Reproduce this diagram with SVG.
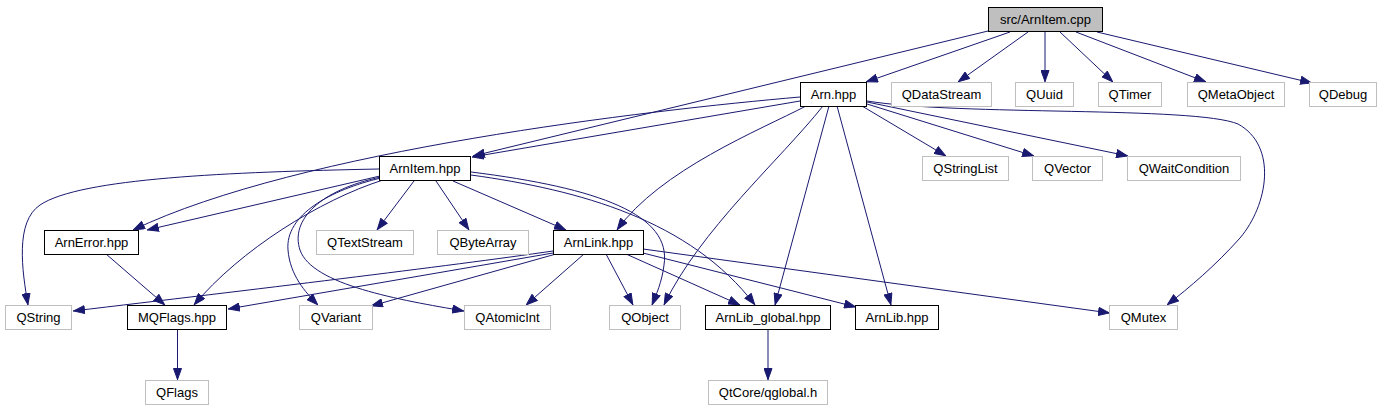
<svg xmlns="http://www.w3.org/2000/svg" width="1384" height="411" viewBox="0 0 1384 411">
<style>
.d{fill:#fff;stroke:#000;stroke-width:1}
.u{fill:#fff;stroke:#bfbfbf;stroke-width:1}
.r{fill:#bfbfbf;stroke:#000;stroke-width:1}
.t{font-family:"Liberation Sans",Arial,sans-serif;font-size:13px;text-anchor:middle;fill:#000}
.e{fill:none;stroke:#191970;stroke-width:1;marker-end:url(#a)}
</style>
<defs>
<marker id="a" viewBox="0 0 12 9" refX="12" refY="4.5" markerWidth="12" markerHeight="9" markerUnits="userSpaceOnUse" orient="auto">
<path d="M0.5,0.5 L11.5,4.5 L0.5,8.5 z" fill="#191970" stroke="#191970" stroke-width="1"/>
</marker>
</defs>
<rect width="1384" height="411" fill="#fff"/>
<g id="connectors">
<path class="e" d="M988,31 L473,156"/>
<path class="e" d="M1010,32 L866,82"/>
<path class="e" d="M1028,32 L958,82"/>
<path class="e" d="M1045,32 L1045,82"/>
<path class="e" d="M1060,32 L1113,82"/>
<path class="e" d="M1076,32 L1206,82"/>
<path class="e" d="M1097,32 L1312,83"/>
<path class="e" d="M800,101 L472,157"/>
<path class="e" d="M800,97 C650,110 300,150 133,230"/>
<path class="e" d="M806,106 C760,130 660,170 617,230"/>
<path class="e" d="M823,106 C780,160 700,230 664,305"/>
<path class="e" d="M829,106 L775,305"/>
<path class="e" d="M837,106 L891,305"/>
<path class="e" d="M862,106 L946,156"/>
<path class="e" d="M867,104 L1034,156"/>
<path class="e" d="M867,102 L1128,156"/>
<path class="e" d="M867,101 C960,116 1195,106 1238,124 C1278,146 1268,205 1240,238 C1215,266 1190,287 1167,305"/>
<path class="e" d="M379,169 C230,172 80,178 40,205 C15,222 22,270 28,305"/>
<path class="e" d="M380,176 L147,230"/>
<path class="e" d="M383,180 C320,200 240,250 194,305"/>
<path class="e" d="M381,178 C330,190 285,215 288,250 C290,275 305,292 318,305"/>
<path class="e" d="M381,177 C320,190 290,220 300,250 C312,285 400,300 464,311"/>
<path class="e" d="M414,181 L377,230"/>
<path class="e" d="M436,181 L469,230"/>
<path class="e" d="M453,181 L566,230"/>
<path class="e" d="M471,172 C600,188 672,215 664,265 C662,282 656,295 652,305"/>
<path class="e" d="M471,175 C580,190 690,220 755,305"/>
<path class="e" d="M553,251 C450,266 250,290 73,311"/>
<path class="e" d="M553,253 L228,309"/>
<path class="e" d="M556,254 L371,306"/>
<path class="e" d="M584,254 L526,305"/>
<path class="e" d="M606,254 L633,305"/>
<path class="e" d="M626,254 L740,305"/>
<path class="e" d="M643,253 L856,307"/>
<path class="e" d="M643,249 L1110,313"/>
<path class="e" d="M106,254 L165,305"/>
<path class="e" d="M177.5,330 L177.5,380"/>
<path class="e" d="M768,330 L768,380"/>
</g>
<g id="n_src"><rect class="r" x="988.5" y="7.5" width="114" height="24"/><text class="t" x="1045.5" y="24">src/ArnItem.cpp</text></g>
<g id="n_arn"><rect class="d" x="800.5" y="82.5" width="66" height="24"/><text class="t" x="833.5" y="99">Arn.hpp</text></g>
<g id="n_qdatastream"><rect class="u" x="891.5" y="82.5" width="100" height="24"/><text class="t" x="941.5" y="99">QDataStream</text></g>
<g id="n_quuid"><rect class="u" x="1015.5" y="82.5" width="58" height="24"/><text class="t" x="1044.5" y="99">QUuid</text></g>
<g id="n_qtimer"><rect class="u" x="1098.5" y="82.5" width="63" height="24"/><text class="t" x="1130" y="99">QTimer</text></g>
<g id="n_qmetaobject"><rect class="u" x="1187.5" y="82.5" width="97" height="24"/><text class="t" x="1236" y="99">QMetaObject</text></g>
<g id="n_qdebug"><rect class="u" x="1309.5" y="82.5" width="67" height="24"/><text class="t" x="1343" y="99">QDebug</text></g>
<g id="n_arnitem"><rect class="d" x="379.5" y="156.5" width="91" height="24"/><text class="t" x="425" y="173">ArnItem.hpp</text></g>
<g id="n_qstringlist"><rect class="u" x="922.5" y="156.5" width="86" height="24"/><text class="t" x="965.5" y="173">QStringList</text></g>
<g id="n_qvector"><rect class="u" x="1032.5" y="156.5" width="70" height="24"/><text class="t" x="1067.5" y="173">QVector</text></g>
<g id="n_qwaitcondition"><rect class="u" x="1127.5" y="156.5" width="113" height="24"/><text class="t" x="1184" y="173">QWaitCondition</text></g>
<g id="n_arnerror"><rect class="d" x="44.5" y="230.5" width="94" height="24"/><text class="t" x="91.5" y="247">ArnError.hpp</text></g>
<g id="n_qtextstream"><rect class="u" x="316.5" y="230.5" width="97" height="24"/><text class="t" x="365" y="247">QTextStream</text></g>
<g id="n_qbytearray"><rect class="u" x="437.5" y="230.5" width="91" height="24"/><text class="t" x="483" y="247">QByteArray</text></g>
<g id="n_arnlink"><rect class="d" x="553.5" y="230.5" width="90" height="24"/><text class="t" x="598.5" y="247">ArnLink.hpp</text></g>
<g id="n_qstring"><rect class="u" x="5.5" y="305.5" width="66" height="24"/><text class="t" x="38.5" y="322">QString</text></g>
<g id="n_mqflags"><rect class="d" x="127.5" y="305.5" width="99" height="24"/><text class="t" x="177" y="322">MQFlags.hpp</text></g>
<g id="n_qvariant"><rect class="u" x="299.5" y="305.5" width="73" height="24"/><text class="t" x="336" y="322">QVariant</text></g>
<g id="n_qatomicint"><rect class="u" x="464.5" y="305.5" width="86" height="24"/><text class="t" x="507.5" y="322">QAtomicInt</text></g>
<g id="n_qobject"><rect class="u" x="609.5" y="305.5" width="71" height="24"/><text class="t" x="645" y="322">QObject</text></g>
<g id="n_arnlib_global"><rect class="d" x="705.5" y="305.5" width="125" height="24"/><text class="t" x="768" y="322">ArnLib_global.hpp</text></g>
<g id="n_arnlib"><rect class="d" x="855.5" y="305.5" width="83" height="24"/><text class="t" x="897" y="322">ArnLib.hpp</text></g>
<g id="n_qmutex"><rect class="u" x="1109.5" y="305.5" width="68" height="24"/><text class="t" x="1143.5" y="322">QMutex</text></g>
<g id="n_qflags"><rect class="u" x="145.5" y="380.5" width="63" height="24"/><text class="t" x="177" y="397">QFlags</text></g>
<g id="n_qglobal"><rect class="u" x="708.5" y="380.5" width="119" height="24"/><text class="t" x="768" y="397">QtCore/qglobal.h</text></g>
</svg>
